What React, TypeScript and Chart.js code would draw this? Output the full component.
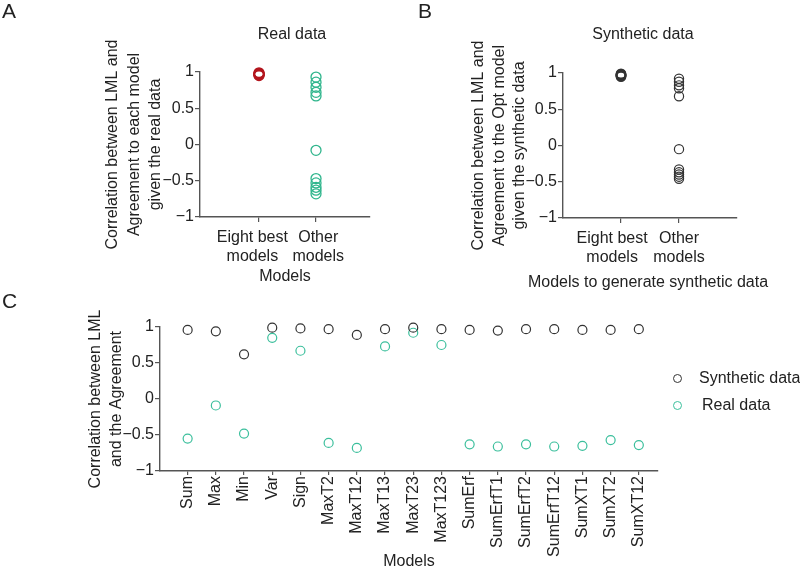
import React, { useEffect, useRef } from 'react';
import { Chart, registerables } from 'chart.js';

Chart.register(...registerables);

const FONT = '"Liberation Sans", Arial, Helvetica, sans-serif';
const FS = 16;

// ---------- data ----------
const groupLabels = [['Eight best', 'models'], ['Other', 'models']];
const yTickValues = [-1, -0.5, 0, 0.5, 1];

const realBest = [0.99, 0.98, 0.98, 0.97, 0.97, 0.96, 0.96, 0.95];
const realOther = [0.93, 0.86, 0.79, 0.72, 0.67, -0.08, -0.47, -0.53, -0.59, -0.63, -0.68];

const synthBest = [0.99, 0.98, 0.98, 0.97, 0.97, 0.96, 0.96, 0.95];
const synthOther = [0.92, 0.88, 0.83, 0.79, 0.68, -0.05, -0.33, -0.37, -0.4, -0.43, -0.46];

const modelNames = [
  'Sum', 'Max', 'Min', 'Var', 'Sign', 'MaxT2', 'MaxT12', 'MaxT13', 'MaxT23', 'MaxT123',
  'SumErf', 'SumErfT1', 'SumErfT2', 'SumErfT12', 'SumXT1', 'SumXT2', 'SumXT12',
];
const synthByModel = [0.96, 0.94, 0.62, 0.99, 0.98, 0.97, 0.89, 0.97, 0.99, 0.97, 0.96, 0.95, 0.97, 0.97, 0.96, 0.96, 0.97];
const realByModel = [-0.55, -0.09, -0.48, 0.85, 0.67, -0.61, -0.68, 0.73, 0.92, 0.75, -0.63, -0.66, -0.63, -0.66, -0.65, -0.57, -0.64];

// ---------- styles ----------
const TEXT = '#222';
const AXIS = '#555';
const GREEN = '#3bbf9c';
const GREEN_A = '#2fb58c';
const DARK = '#333';
const RED = '#b3161e';

const fmt = (v: number) => (v < 0 ? '\u2212' + Math.abs(v) : String(v));

function zeroPad(s: any) {
  s.paddingTop = 0;
  s.paddingBottom = 0;
  s.paddingLeft = 0;
  s.paddingRight = 0;
}

function yScale(width: number, lines: string[], padTop: number, lineHeight: number) {
  return {
    type: 'linear',
    min: -1,
    max: 1,
    afterBuildTicks: (s: any) => {
      s.ticks = yTickValues.map((v) => ({ value: v }));
    },
    afterFit: (s: any) => {
      s.width = width;
      zeroPad(s);
    },
    ticks: { callback: (v: number) => fmt(v), padding: 1, color: TEXT, font: { size: FS } },
    grid: { drawOnChartArea: false, drawTicks: true, tickLength: 5, color: AXIS, lineWidth: 1.2 },
    border: { display: true, color: AXIS, width: 1.4 },
    title: {
      display: true,
      text: lines,
      color: TEXT,
      font: { size: FS, lineHeight },
      padding: { top: padTop, bottom: 0 },
    },
  };
}

// padLeft / padRight: number of spaces used to nudge each group label sideways
function xGroupScale(height: number, min: number, max: number, title: string | null, padBottom: number, nudge: number[]) {
  return {
    type: 'linear',
    min,
    max,
    afterBuildTicks: (s: any) => {
      s.ticks = [0, 1].map((v) => ({ value: v }));
    },
    afterFit: (s: any) => {
      s.height = height;
      zeroPad(s);
    },
    ticks: {
      callback: (v: number) =>
        groupLabels[v].map((line) => {
          const n = nudge[v];
          const sp = ' '.repeat(Math.abs(n));
          return n < 0 ? line + sp : sp + line;
        }),
      autoSkip: false,
      maxRotation: 0,
      minRotation: 0,
      padding: 6,
      color: TEXT,
      font: { size: FS, lineHeight: 1.19 },
    },
    grid: { drawOnChartArea: false, drawTicks: true, tickLength: 5, color: AXIS, lineWidth: 1.2 },
    border: { display: true, color: AXIS, width: 1.4 },
    title: {
      display: !!title,
      text: title || '',
      color: TEXT,
      font: { size: FS, lineHeight: 1.19 },
      padding: { top: 0, bottom: padBottom },
    },
  };
}

function pts(x: number, arr: number[]) {
  return arr.map((v) => ({ x, y: v }));
}

function ds(data: any[], color: string, radius: number, width: number) {
  return {
    type: 'scatter',
    data,
    clip: false,
    showLine: false,
    borderColor: color,
    backgroundColor: 'rgba(0,0,0,0)',
    pointBorderColor: color,
    pointBackgroundColor: 'rgba(0,0,0,0)',
    pointRadius: radius,
    pointHoverRadius: radius,
    pointBorderWidth: width,
    borderWidth: width,
  };
}

const basePlugins = { legend: { display: false }, tooltip: { enabled: false }, title: { display: false } };

export default function App() {
  const refA = useRef<HTMLCanvasElement>(null);
  const refB = useRef<HTMLCanvasElement>(null);
  const refC = useRef<HTMLCanvasElement>(null);

  useEffect(() => {
    Chart.defaults.font.family = FONT;
    Chart.defaults.font.size = FS;
    Chart.defaults.color = TEXT;

    const chartA = new Chart(refA.current as HTMLCanvasElement, {
      type: 'scatter',
      data: {
        datasets: [
          ds(pts(0, realBest), RED, 4.8, 1.5),
          ds(pts(1, realOther), GREEN_A, 5, 1.3),
        ] as any,
      },
      options: {
        responsive: false,
        animation: false,
        events: [],
        layout: { padding: { top: 72, left: 0, right: 20, bottom: 0 } },
        plugins: basePlugins,
        scales: {
          x: xGroupScale(73, -1.035, 1.947, 'Models', 3.5, [-3, 1]),
          y: yScale(200, ['Correlation between LML and', 'Agreement to each model', 'given the real data'], 102.3, 1.33),
        } as any,
      },
    } as any);

    const chartB = new Chart(refB.current as HTMLCanvasElement, {
      type: 'scatter',
      data: {
        datasets: [
          ds(pts(0, synthBest), DARK, 4.6, 1.5),
          ds(pts(1, synthOther), DARK, 4.6, 1.2),
        ] as any,
      },
      options: {
        responsive: false,
        animation: false,
        events: [],
        layout: { padding: { top: 73, left: 0, right: 63, bottom: 0 } },
        plugins: basePlugins,
        scales: {
          x: xGroupScale(82, -1, 2, null, 0, [-4, 0]),
          y: yScale(183, ['Correlation between LML and', 'Agreement to the Opt model', 'given the synthetic data'], 88.4, 1.28),
        } as any,
      },
    } as any);

    const chartC = new Chart(refC.current as HTMLCanvasElement, {
      type: 'scatter',
      data: {
        datasets: [
          ds(synthByModel.map((v, i) => ({ x: i, y: v })), DARK, 4.5, 1.2),
          ds(realByModel.map((v, i) => ({ x: i, y: v })), GREEN, 4.5, 1.2),
        ] as any,
      },
      options: {
        responsive: false,
        animation: false,
        events: [],
        layout: { padding: { top: 37, left: 0, right: 142, bottom: 0 } },
        plugins: basePlugins,
        scales: {
          x: {
            type: 'linear',
            min: -0.98,
            max: 16.68,
            afterBuildTicks: (s: any) => {
              s.ticks = modelNames.map((_, i) => ({ value: i }));
            },
            afterFit: (s: any) => {
              s.height = 100;
              zeroPad(s);
            },
            ticks: {
              callback: (v: number) => modelNames[v],
              autoSkip: false,
              minRotation: 90,
              maxRotation: 90,
              padding: 1,
              color: TEXT,
              font: { size: FS },
            },
            grid: { drawOnChartArea: false, drawTicks: true, tickLength: 4, color: AXIS, lineWidth: 1.2 },
            border: { display: true, color: AXIS, width: 1.4 },
            title: {
              display: true,
              text: 'Models',
              color: TEXT,
              font: { size: FS, lineHeight: 1.19 },
              padding: { top: 0, bottom: 0 },
            },
          },
          y: yScale(160, ['Correlation between LML', 'and the Agreement'], 85.3, 1.31),
        } as any,
      },
    } as any);

    return () => {
      chartA.destroy();
      chartB.destroy();
      chartC.destroy();
    };
  }, []);

  const text = (x: number, y: number, s: string, size = FS, center = true) => (
    <div
      style={{
        position: 'absolute',
        left: x,
        top: y,
        transform: center ? 'translate(-50%, -50%)' : 'translate(0, -50%)',
        fontSize: size,
        lineHeight: 1,
        whiteSpace: 'nowrap',
        color: TEXT,
      }}
    >
      {s}
    </div>
  );

  const circle = (x: number, y: number, color: string) => (
    <div
      style={{
        position: 'absolute',
        left: x - 4.5,
        top: y - 4.5,
        width: 9,
        height: 9,
        boxSizing: 'border-box',
        border: `1.3px solid ${color}`,
        borderRadius: '50%',
      }}
    />
  );

  return (
    <div
      style={{
        position: 'fixed',
        left: 0,
        top: 0,
        width: 800,
        height: 571,
        background: '#fff',
        fontFamily: FONT,
        overflow: 'hidden',
      }}
    >
      <canvas ref={refA} width={390} height={290} style={{ position: 'absolute', left: 0, top: 0, width: 390, height: 290 }} />
      <canvas ref={refB} width={420} height={300} style={{ position: 'absolute', left: 380, top: 0, width: 420, height: 300 }} />
      <canvas ref={refC} width={800} height={281} style={{ position: 'absolute', left: 0, top: 290, width: 800, height: 281 }} />

      {text(2, 10, 'A', 21, false)}
      {text(418, 10, 'B', 21, false)}
      {text(2, 300, 'C', 21, false)}

      {text(292, 34, 'Real data')}
      {text(643, 34, 'Synthetic data')}
      {text(648, 282, 'Models to generate synthetic data')}

      {circle(677, 378, DARK)}
      {text(699, 378, 'Synthetic data', FS, false)}
      {circle(677, 405, GREEN)}
      {text(702, 405, 'Real data', FS, false)}
    </div>
  );
}
